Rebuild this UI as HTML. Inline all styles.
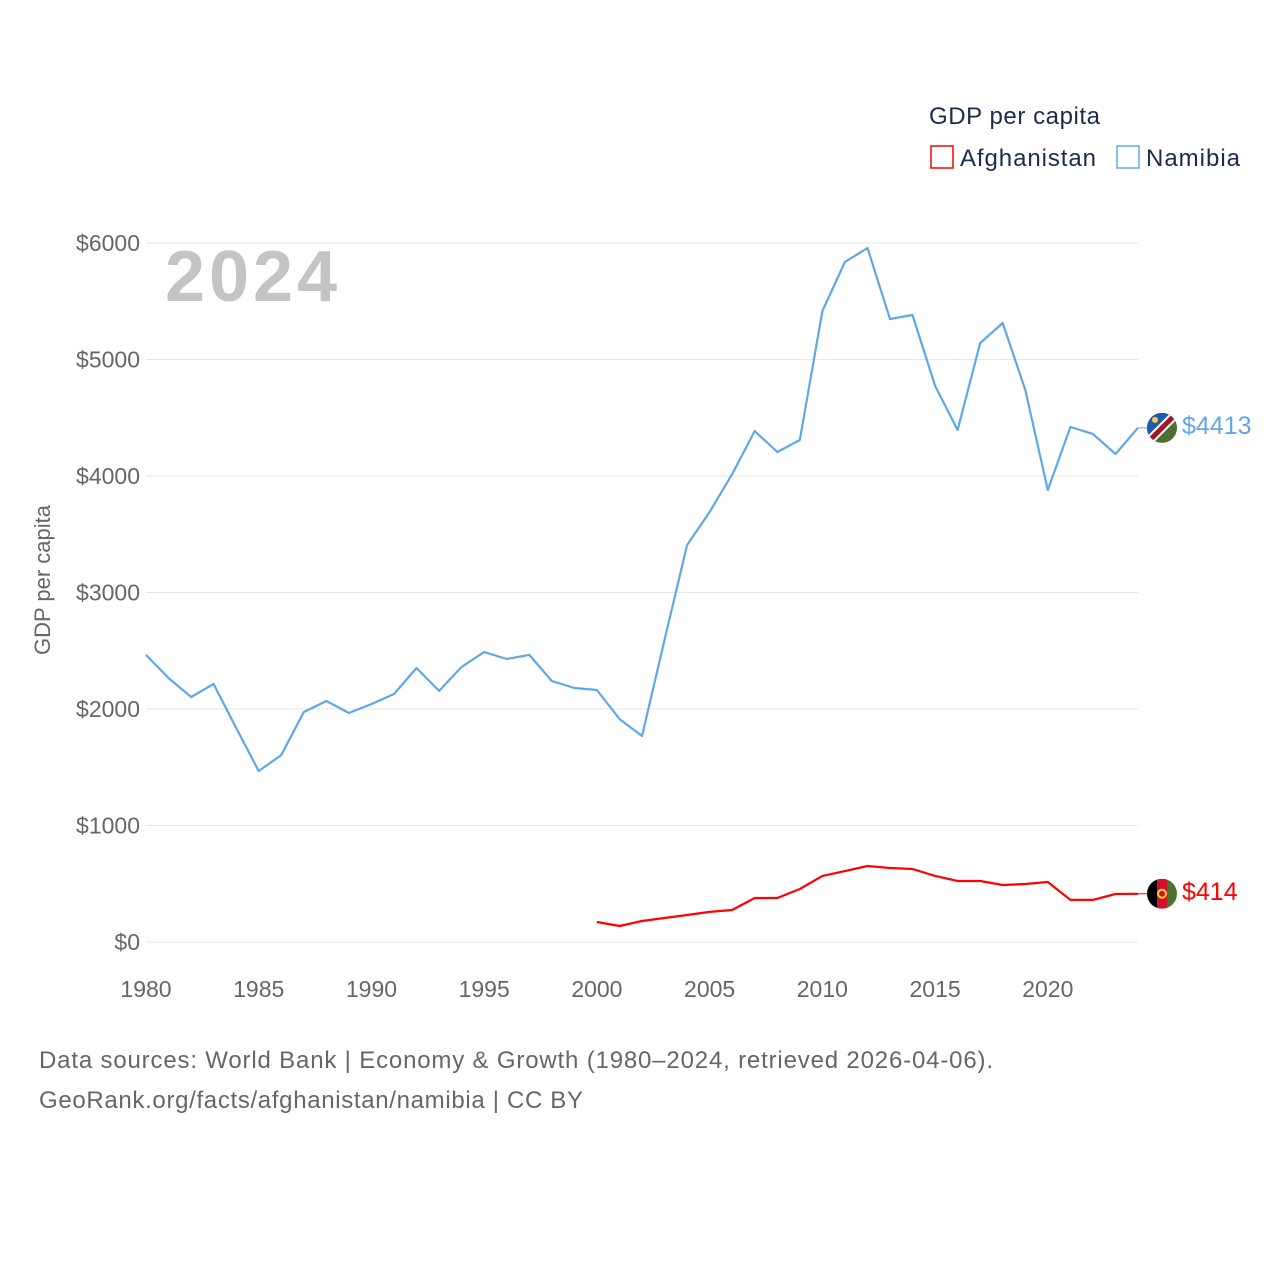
<!DOCTYPE html>
<html><head><meta charset="utf-8"><style>
html,body{margin:0;padding:0;background:#fff;}
svg text{font-family:"Liberation Sans",sans-serif;}
</style></head><body>
<svg id="chart" width="1280" height="1280" xmlns="http://www.w3.org/2000/svg">
<text x="929" y="124" font-size="24" fill="#1d2b4a" textLength="171">GDP per capita</text>
<g><rect x="931" y="146" width="22" height="22" fill="none" stroke="#ff0000" stroke-width="1.5"/><text x="960" y="166" font-size="24" fill="#1d2b4a" textLength="136">Afghanistan</text></g>
<g><rect x="1117" y="146" width="22" height="22" fill="none" stroke="#5fa8e8" stroke-width="1.5"/><text x="1146" y="166" font-size="24" fill="#1d2b4a" textLength="94">Namibia</text></g>
<text x="165" y="301" font-size="72" font-weight="bold" fill="#c4c4c4" textLength="172">2024</text>
<text transform="translate(50,580) rotate(-90)" text-anchor="middle" font-size="22" fill="#666">GDP per capita</text>
<g id="grid"></g><g id="xticks"></g><g id="series"></g>
<text x="39" y="1068" font-size="24" fill="#666" textLength="954">Data sources: World Bank | Economy &amp; Growth (1980–2024, retrieved 2026-04-06).</text>
<text x="39" y="1108" font-size="24" fill="#666" textLength="544">GeoRank.org/facts/afghanistan/namibia | CC BY</text>
</svg>
<script>
const yTicks=[0,1000,2000,3000,4000,5000,6000];
const xTicks=[1980,1985,1990,1995,2000,2005,2010,2015,2020];
const namibiaYears=[1980,1981,1982,1983,1984,1985,1986,1987,1988,1989,1990,1991,1992,1993,1994,1995,1996,1997,1998,1999,2000,2001,2002,2003,2004,2005,2006,2007,2008,2009,2010,2011,2012,2013,2014,2015,2016,2017,2018,2019,2020,2021,2022,2023,2024];
const namibiaValues=[2464,2266,2103,2215,1837,1468,1605,1974,2069,1966,2043,2129,2352,2155,2361,2489,2429,2464,2240,2180,2163,1914,1768,2592,3408,3691,4017,4386,4206,4309,5416,5837,5957,5348,5382,4773,4395,5142,5313,4738,3880,4421,4361,4189,4413];
const afghanYears=[2000,2001,2002,2003,2004,2005,2006,2007,2008,2009,2010,2011,2012,2013,2014,2015,2016,2017,2018,2019,2020,2021,2022,2023,2024];
const afghanValues=[172,137,180,206,232,258,275,378,378,455,567,609,652,635,627,567,524,524,489,498,515,361,361,412,414];
const NS="http://www.w3.org/2000/svg";
const X=y=>146+(y-1980)*(1138-146)/44;
const Y=v=>942-v*(942-243)/6000;
function mk(t,a,p){const e=document.createElementNS(NS,t);for(const k in a)e.setAttribute(k,a[k]);p.appendChild(e);return e;}
const grid=document.getElementById('grid');
yTicks.forEach(v=>{
 const l=mk('line',{x1:146,x2:1138,y1:Y(v),y2:Y(v),stroke:'#e6e6e6','stroke-width':1},grid);
 
 
 const t=mk('text',{x:140,y:Y(v)+8,'text-anchor':'end','font-size':23,fill:'#666'},grid);
 t.textContent='$'+v;
 
 
});
const xt=document.getElementById('xticks');
xTicks.forEach(y=>{
 const t=mk('text',{x:X(y),y:997,'text-anchor':'middle','font-size':23,fill:'#666'},xt);
 t.textContent=y;
 
 
});
const s=document.getElementById('series');
function line(years,vals,col,name){
 const d=years.map((y,i)=>(i?'L':'M')+X(y).toFixed(1)+','+Y(vals[i]).toFixed(1)).join('');
 const p=mk('path',{d:d,fill:'none',stroke:col,'stroke-width':2.2,'stroke-linejoin':'round'},s);
 
 
 const last=vals[vals.length-1];
 mk('line',{x1:1138,x2:1150,y1:Y(last),y2:Y(last),stroke:col,'stroke-width':1},s);
 const t=mk('text',{x:1182,y:Y(last)+6,'font-size':25,fill:col},s);
 t.textContent='$'+last;
 
 
 return Y(last);
}
const yn=line(namibiaYears,namibiaValues,'#5fa8e8','namibia');
const ya=line(afghanYears,afghanValues,'#ff0000','afghanistan');
const fn=mk('g',{},s);


mk('clipPath',{id:'cn'},fn);mk('circle',{cx:1162,cy:yn,r:15},document.getElementById('cn'));
const gn=mk('g',{'clip-path':'url(#cn)'},fn);
mk('rect',{x:1147,y:yn-15,width:30,height:30,fill:'#4b7031'},gn);
mk('polygon',{points:`1147,${yn-15} 1177,${yn-15} 1147,${yn+15}`,fill:'#1d5ab0'},gn);
mk('line',{x1:1147,y1:yn+15,x2:1177,y2:yn-15,stroke:'#fff',"stroke-width":9},gn);
mk('line',{x1:1147,y1:yn+15,x2:1177,y2:yn-15,stroke:'#a01828',"stroke-width":5},gn);
mk('circle',{cx:1155,cy:yn-8,r:3,fill:'#ffcc33'},gn);
const fa=mk('g',{},s);


mk('clipPath',{id:'ca'},fa);mk('circle',{cx:1162,cy:ya,r:15},document.getElementById('ca'));
const ga=mk('g',{'clip-path':'url(#ca)'},fa);
mk('rect',{x:1147,y:ya-15,width:10,height:30,fill:'#000'},ga);
mk('rect',{x:1157,y:ya-15,width:10,height:30,fill:'#d2102c'},ga);
mk('rect',{x:1167,y:ya-15,width:10,height:30,fill:'#4b7031'},ga);
mk('circle',{cx:1162,cy:ya,r:4,fill:'none',stroke:'#ffcc33','stroke-width':2},ga);
</script>
</body></html>
